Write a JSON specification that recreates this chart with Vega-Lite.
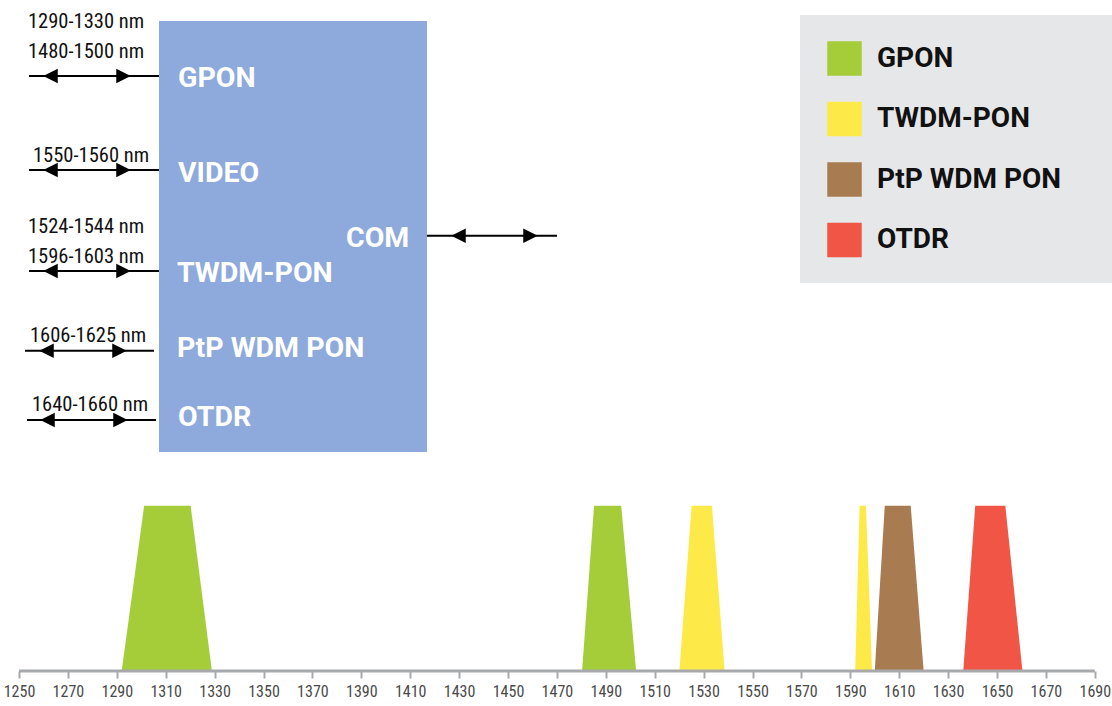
{
  "$schema": "https://vega.github.io/schema/vega-lite/v6.json",
  "padding": 0,
  "spacing": 0,
  "background": "white",
  "config": {"view": {"stroke": null}},
  "resolve": {"scale": {"x": "independent", "y": "independent"}},
  "datasets": {
    "legendBox": [{"x1": 800, "x2": 1112, "y1": 15, "y2": 283}],
    "mux": [{"x1": 159, "x2": 427, "y1": 21, "y2": 452}],
    "links": [
      {"port": "GPON", "from": 29, "to": 159, "y": 76},
      {"port": "VIDEO", "from": 29, "to": 159, "y": 170},
      {"port": "TWDM-PON", "from": 29, "to": 159, "y": 271},
      {"port": "PtP WDM PON", "from": 25, "to": 154, "y": 350.7},
      {"port": "OTDR", "from": 27, "to": 156, "y": 420},
      {"port": "COM", "from": 427, "to": 557, "y": 235.7}
    ],
    "heads": [
      {"port": "GPON", "side": "left", "x": 50.5, "y": 76},
      {"port": "GPON", "side": "right", "x": 123.5, "y": 76},
      {"port": "VIDEO", "side": "left", "x": 50.5, "y": 170},
      {"port": "VIDEO", "side": "right", "x": 123.5, "y": 170},
      {"port": "TWDM-PON", "side": "left", "x": 50.5, "y": 271},
      {"port": "TWDM-PON", "side": "right", "x": 123.5, "y": 271},
      {"port": "PtP WDM PON", "side": "left", "x": 46.5, "y": 350.7},
      {"port": "PtP WDM PON", "side": "right", "x": 119.5, "y": 350.7},
      {"port": "OTDR", "side": "left", "x": 47.5, "y": 420},
      {"port": "OTDR", "side": "right", "x": 120.5, "y": 420},
      {"port": "COM", "side": "left", "x": 458.5, "y": 235.7},
      {"port": "COM", "side": "right", "x": 530.5, "y": 235.7}
    ],
    "ranges": [
      {"text": "1290-1330 nm", "x": 28, "y": 28},
      {"text": "1480-1500 nm", "x": 28, "y": 58},
      {"text": "1550-1560 nm", "x": 33, "y": 162},
      {"text": "1524-1544 nm", "x": 28, "y": 233},
      {"text": "1596-1603 nm", "x": 28, "y": 263},
      {"text": "1606-1625 nm", "x": 30, "y": 342},
      {"text": "1640-1660 nm", "x": 32, "y": 411}
    ],
    "ports": [
      {"text": "GPON", "x": 178, "y": 87},
      {"text": "VIDEO", "x": 178, "y": 182},
      {"text": "COM", "x": 346, "y": 247},
      {"text": "TWDM-PON", "x": 177, "y": 282},
      {"text": "PtP WDM PON", "x": 177, "y": 357},
      {"text": "OTDR", "x": 178, "y": 426}
    ],
    "bands": [
      {"band": "g1", "service": "GPON", "nm": 1292.0, "level": 0},
      {"band": "g1", "service": "GPON", "nm": 1301.2, "level": 1},
      {"band": "g1", "service": "GPON", "nm": 1320.2, "level": 1},
      {"band": "g1", "service": "GPON", "nm": 1328.9, "level": 0},
      {"band": "g2", "service": "GPON", "nm": 1480.3, "level": 0},
      {"band": "g2", "service": "GPON", "nm": 1485.2, "level": 1},
      {"band": "g2", "service": "GPON", "nm": 1496.3, "level": 1},
      {"band": "g2", "service": "GPON", "nm": 1502.4, "level": 0},
      {"band": "t1", "service": "TWDM-PON", "nm": 1520.1, "level": 0},
      {"band": "t1", "service": "TWDM-PON", "nm": 1525.1, "level": 1},
      {"band": "t1", "service": "TWDM-PON", "nm": 1533.4, "level": 1},
      {"band": "t1", "service": "TWDM-PON", "nm": 1538.6, "level": 0},
      {"band": "t2", "service": "TWDM-PON", "nm": 1592.0, "level": 0},
      {"band": "t2", "service": "TWDM-PON", "nm": 1593.8, "level": 1},
      {"band": "t2", "service": "TWDM-PON", "nm": 1596.4, "level": 1},
      {"band": "t2", "service": "TWDM-PON", "nm": 1598.9, "level": 0},
      {"band": "p1", "service": "PtP WDM PON", "nm": 1600.0, "level": 0},
      {"band": "p1", "service": "PtP WDM PON", "nm": 1604.1, "level": 1},
      {"band": "p1", "service": "PtP WDM PON", "nm": 1614.7, "level": 1},
      {"band": "p1", "service": "PtP WDM PON", "nm": 1620.0, "level": 0},
      {"band": "o1", "service": "OTDR", "nm": 1636.2, "level": 0},
      {"band": "o1", "service": "OTDR", "nm": 1641.1, "level": 1},
      {"band": "o1", "service": "OTDR", "nm": 1653.4, "level": 1},
      {"band": "o1", "service": "OTDR", "nm": 1660.4, "level": 0}
    ],
    "baseline": [{"from": 1250, "to": 1690, "level": 0}]
  },
  "vconcat": [
    {
      "width": 1112,
      "height": 480,
      "encoding": {},
      "layer": [
        {
          "data": {"name": "legendBox"},
          "mark": {"type": "rect", "fill": "#e6e7e8"},
          "encoding": {
            "x": {"field": "x1", "type": "quantitative", "scale": {"domain": [0, 1112], "nice": false, "zero": false}, "axis": null},
            "x2": {"field": "x2"},
            "y": {"field": "y1", "type": "quantitative", "scale": {"domain": [0, 480], "nice": false, "zero": false, "reverse": true}, "axis": null},
            "y2": {"field": "y2"}
          }
        },
        {
          "data": {"name": "mux"},
          "mark": {"type": "rect", "fill": "#8eaadc"},
          "encoding": {
            "x": {"field": "x1", "type": "quantitative"},
            "x2": {"field": "x2"},
            "y": {"field": "y1", "type": "quantitative"},
            "y2": {"field": "y2"}
          }
        },
        {
          "data": {"name": "links"},
          "mark": {"type": "rule", "color": "#000000", "strokeWidth": 2},
          "encoding": {
            "x": {"field": "from", "type": "quantitative"},
            "x2": {"field": "to"},
            "y": {"field": "y", "type": "quantitative"}
          }
        },
        {
          "data": {"name": "heads"},
          "mark": {"type": "point", "filled": true, "color": "#000000", "opacity": 1, "size": 210, "strokeWidth": 0},
          "encoding": {
            "x": {"field": "x", "type": "quantitative"},
            "y": {"field": "y", "type": "quantitative"},
            "shape": {"field": "side", "type": "nominal", "scale": {"domain": ["left", "right"], "range": ["M-1,0L1,-1L1,1Z", "M1,0L-1,-1L-1,1Z"]}, "legend": null}
          }
        },
        {
          "data": {"name": "ranges"},
          "mark": {"type": "text", "align": "left", "baseline": "alphabetic", "font": "Roboto Condensed, Liberation Sans Narrow, DejaVu Sans Condensed, Roboto", "fontSize": 20.5, "color": "#111111"},
          "encoding": {
            "x": {"field": "x", "type": "quantitative"},
            "y": {"field": "y", "type": "quantitative"},
            "text": {"field": "text"}
          }
        },
        {
          "data": {"name": "ports"},
          "mark": {"type": "text", "align": "left", "baseline": "alphabetic", "font": "Roboto", "fontWeight": "bold", "fontSize": 28.5, "color": "#ffffff"},
          "encoding": {
            "x": {"field": "x", "type": "quantitative"},
            "y": {"field": "y", "type": "quantitative"},
            "text": {"field": "text"}
          }
        }
      ]
    },
    {
      "width": 1112,
      "height": 191,
      "encoding": {},
      "layer": [
        {
          "data": {"name": "bands"},
          "mark": {"type": "area", "opacity": 1},
          "encoding": {
            "x": {"field": "nm", "type": "quantitative", "scale": {"domain": [1242.23, 1697.03], "nice": false, "zero": false},
              "axis": {"values": [1250, 1270, 1290, 1310, 1330, 1350, 1370, 1390, 1410, 1430, 1450, 1470, 1490, 1510, 1530, 1550, 1570, 1590, 1610, 1630, 1650, 1670, 1690],
                "format": "d", "domain": false, "grid": false, "title": null, "tickColor": "#a7a9ac", "tickWidth": 2, "tickSize": 7,
                "labelFont": "Roboto Condensed, Liberation Sans Narrow, DejaVu Sans Condensed, Roboto", "labelFontSize": 16, "labelColor": "#4a4a4a", "labelPadding": 5, "labelFlush": false, "labelOverlap": false}},
            "y": {"field": "level", "type": "quantitative", "stack": null, "scale": {"domain": [0, 1.1555], "nice": false}, "axis": null},
            "detail": {"field": "band"},
            "color": {"field": "service", "type": "nominal",
              "scale": {"domain": ["GPON", "TWDM-PON", "PtP WDM PON", "OTDR"], "range": ["#a5cd39", "#fde947", "#a87c50", "#f05545"]},
              "legend": {"orient": "none", "legendX": 827, "legendY": 41, "title": null, "padding": 0, "symbolType": "square", "symbolSize": 1190, "symbolStrokeWidth": 0, "symbolOpacity": 1,
                "labelFont": "Roboto", "labelFontWeight": "bold", "labelFontSize": 28, "labelColor": "#111111", "labelOffset": 15, "rowPadding": 25.5, "labelLimit": 400}}
          }
        },
        {
          "data": {"name": "baseline"},
          "mark": {"type": "rule", "color": "#a7a9ac", "strokeWidth": 3},
          "encoding": {
            "x": {"field": "from", "type": "quantitative"},
            "x2": {"field": "to"},
            "y": {"field": "level", "type": "quantitative"}
          }
        }
      ]
    }
  ]
}
